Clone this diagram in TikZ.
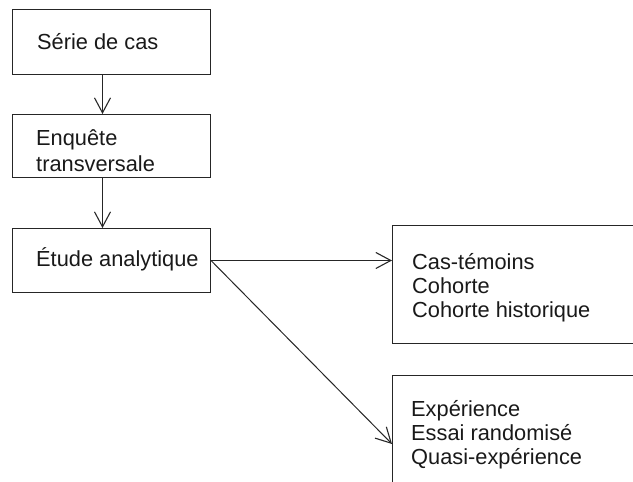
\documentclass[tikz,border=0pt]{standalone}
\usepackage{fontspec}
\setmainfont{Liberation Sans}
\usetikzlibrary{arrows.meta}
\begin{document}
\begin{tikzpicture}[x=1pt,y=1pt,
  box/.style={draw=black!85, line width=1pt, inner sep=0pt, anchor=north west},
  openbox/.style={inner sep=0pt, anchor=north west},
  edge/.style={draw=black!85, line width=1pt},
  lbl/.style={anchor=base west, inner sep=0pt, text=black!90, font=\fontsize{21.8}{24}\selectfont},
  arr/.style={draw=black!85, line width=1pt, -{Straight Barb[length=15pt,width=16pt,line width=1.1pt]}}]
\useasboundingbox (0,0) rectangle (633,482);
\clip (0,0) rectangle (633,482);
% left column boxes
\node[box, minimum width=198pt, minimum height=65pt] (b1) at (12,473) {};
\node[box, minimum width=198pt, minimum height=63pt] (b2) at (12,368) {};
\node[box, minimum width=198pt, minimum height=64pt] (b3) at (12,254) {};
% right boxes (run past the page edge, no right side visible)
\node[openbox, minimum width=260pt, minimum height=117pt] (r1) at (392,256) {};
\node[openbox, minimum width=260pt, minimum height=120pt] (r2) at (392,106) {};
\draw[edge] (r1.north east) -- (r1.north west) -- (r1.south west) -- (r1.south east);
\draw[edge] (r2.north east) -- (r2.north west) -- (r2.south west);
% texts
\node[lbl] (t1) at (37,432) {Série de cas};
\node[lbl] (t2a) at (36,336) {Enquête};
\node[lbl] (t2b) at (36,310) {transversale};
\node[lbl] (t3) at (36,215) {Étude analytique};
\node[lbl] (r1a) at (412,212) {Cas-témoins};
\node[lbl] (r1b) at (412,188) {Cohorte};
\node[lbl] (r1c) at (412,164) {Cohorte historique};
\node[lbl] (r2a) at (411,65) {Expérience};
\node[lbl] (r2b) at (411,41) {Essai randomisé};
\node[lbl] (r2c) at (411,17) {Quasi-expérience};
% connectors
\draw[arr] ([xshift=-9pt]b1.south) -- ([xshift=-9pt]b2.north);
\draw[arr] ([xshift=-9pt]b2.south) -- ([xshift=-9pt]b3.north);
\draw[arr] (b3.east) -- (b3.east -| r1.west);
\draw[arr] (b3.east) -- ([yshift=-68pt]r2.north west);
\end{tikzpicture}
\end{document}
